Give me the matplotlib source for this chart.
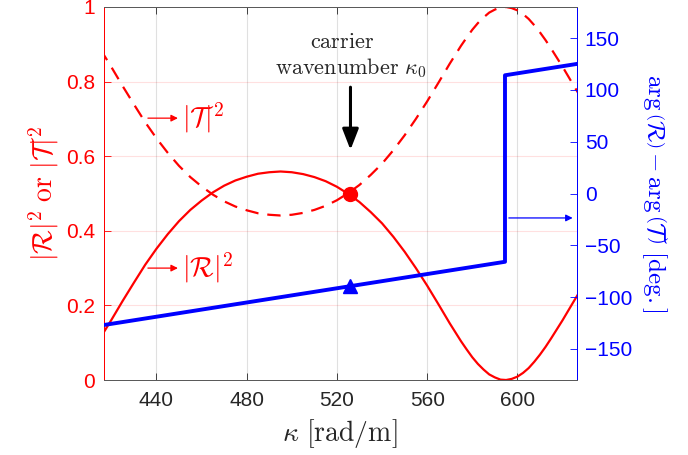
import matplotlib
matplotlib.use("Agg")
import matplotlib.pyplot as plt

plt.rcParams['mathtext.fontset'] = 'cm'
plt.rcParams['font.family'] = ['Liberation Sans', 'DejaVu Sans']

# wavenumber grid [rad/m]
kappa = [415, 420, 425, 430, 435, 440, 445, 450, 455, 460, 465, 470, 475, 480,
         485, 490, 495, 500, 505, 510, 515, 520, 525, 530, 535, 540, 545, 550,
         555, 560, 565, 570, 575, 577.5, 580, 582.5, 585, 587.5, 590, 592.5,
         595, 597.5, 600, 602.5, 605, 607.5, 610, 612.5, 615, 620, 625, 630]
# |R|^2
R2 = [0.112, 0.161, 0.212, 0.261, 0.309, 0.352, 0.391, 0.426, 0.456, 0.481,
      0.503, 0.521, 0.535, 0.545, 0.553, 0.557, 0.559, 0.557, 0.552, 0.544,
      0.533, 0.518, 0.499, 0.477, 0.450, 0.420, 0.384, 0.344, 0.300, 0.253,
      0.203, 0.152, 0.104, 0.082, 0.061, 0.043, 0.028, 0.015, 0.007, 0.001,
      0.000, 0.003, 0.009, 0.019, 0.032, 0.049, 0.068, 0.089, 0.112, 0.160,
      0.211, 0.261]
# |T|^2
T2 = [0.888, 0.839, 0.788, 0.739, 0.691, 0.648, 0.609, 0.574, 0.544, 0.519,
      0.497, 0.479, 0.465, 0.455, 0.447, 0.443, 0.441, 0.443, 0.448, 0.456,
      0.467, 0.482, 0.501, 0.523, 0.550, 0.580, 0.616, 0.656, 0.700, 0.747,
      0.797, 0.848, 0.896, 0.918, 0.939, 0.957, 0.972, 0.985, 0.993, 0.999,
      1.000, 0.997, 0.991, 0.981, 0.968, 0.951, 0.932, 0.911, 0.888, 0.840,
      0.789, 0.739]
# phase difference arg(R) - arg(T) [deg]
kappa_phase = [415, 594.5, 594.5, 630]
phase = [-127.5, -65.9, 114.1, 126.3]

# carrier wavenumber marker
kappa0 = 526
R2_0 = 0.5
phase_0 = -89.4

RED = '#ff0000'
BLUE = '#0000ff'
GREY = '#262626'

fig = plt.figure(figsize=(6.88, 4.55), dpi=100)
ax = fig.add_axes([103.7/688, 75/455, (576.5-103.7)/688, 373/455])
ax2 = ax.twinx()

ax.plot(kappa, R2, color=RED, lw=1.6, zorder=3)
ax.plot(kappa, T2, color=RED, lw=1.6, dashes=(6, 4), zorder=3)
ax.plot([kappa0], [R2_0], 'o', color=RED, ms=10, zorder=4)

ax2.plot(kappa_phase, phase, color=BLUE, lw=2.8, zorder=3)
ax2.plot([kappa0], [phase_0], '^', color=BLUE, ms=10, zorder=4)

ax.set_xlim(416.6, 626.2)
ax.set_ylim(0, 1)
ax2.set_ylim(-180, 180)

ax.set_xticks([440, 480, 520, 560, 600])
ax.set_yticks([0, 0.2, 0.4, 0.6, 0.8, 1])
ax.set_yticklabels(['0', '0.2', '0.4', '0.6', '0.8', '1'])
ax2.set_yticks([-150, -100, -50, 0, 50, 100, 150])

# grid
for xv in [440, 480, 520, 560, 600]:
    ax.axvline(xv, color='#000000', alpha=0.12, lw=0.8, zorder=0)
for yv in [0.2, 0.4, 0.6, 0.8]:
    ax.axhline(yv, color=RED, alpha=0.12, lw=0.8, zorder=0)

ax.tick_params(axis='x', direction='in', length=5, colors=GREY, labelsize=15,
               top=True, pad=8, width=0.6)
ax.tick_params(axis='y', direction='in', length=5, colors=RED, labelsize=15,
               pad=6, width=0.6)
ax2.tick_params(axis='y', direction='in', length=5, colors=BLUE, labelsize=15,
                pad=6, width=0.6)

for a in (ax, ax2):
    a.spines['top'].set_color('#5a5a5a')
    a.spines['bottom'].set_color('#5a5a5a')
    a.spines['left'].set_color(RED)
    a.spines['right'].set_color(BLUE)
    for s in a.spines.values():
        s.set_linewidth(0.7)

ax.set_xlabel(r'$\kappa\ [\mathrm{rad/m}]$', fontsize=20, color=GREY, labelpad=5)
ax.set_ylabel(r'$|\mathcal{R}|^2\ \mathrm{or}\ |\mathcal{T}|^2$', fontsize=20,
              color=RED, labelpad=4)
ax2.set_ylabel(r'$\arg\left(\mathcal{R}\right)-\arg\left(\mathcal{T}\right)\ [\mathrm{deg.}]$',
               fontsize=18, color=BLUE, rotation=270, labelpad=26)

# annotations
ax.annotate('', xy=(449.5, 0.702), xytext=(436.2, 0.702),
            arrowprops=dict(arrowstyle='-|>', color=RED, lw=0.9, mutation_scale=10,
                            shrinkA=0, shrinkB=0))
ax.text(451.5, 0.702, r'$|\mathcal{T}|^2$', color=RED, fontsize=20, va='center', ha='left')
ax.annotate('', xy=(449.5, 0.30), xytext=(436.2, 0.30),
            arrowprops=dict(arrowstyle='-|>', color=RED, lw=0.9, mutation_scale=10,
                            shrinkA=0, shrinkB=0))
ax.text(451.5, 0.30, r'$|\mathcal{R}|^2$', color=RED, fontsize=20, va='center', ha='left')

ax2.annotate('', xy=(624.5, -23.6), xytext=(596.2, -23.6),
             arrowprops=dict(arrowstyle='-|>', color=BLUE, lw=0.9, mutation_scale=10,
                             shrinkA=0, shrinkB=0))

ax.annotate('', xy=(kappa0, 0.617), xytext=(kappa0, 0.785),
            arrowprops=dict(arrowstyle='-|>,head_width=0.35,head_length=0.9',
                            color='black', lw=2.2, mutation_scale=14,
                            shrinkA=0, shrinkB=0))
ax.text(522.2, 0.906, r'$\mathrm{carrier}$', fontsize=16, color=GREY,
        ha='center', va='center')
ax.text(526.2, 0.836, r'$\mathrm{wavenumber}\ \kappa_0$', fontsize=16, color=GREY,
        ha='center', va='center')

fig.savefig('out.png', dpi=100)
